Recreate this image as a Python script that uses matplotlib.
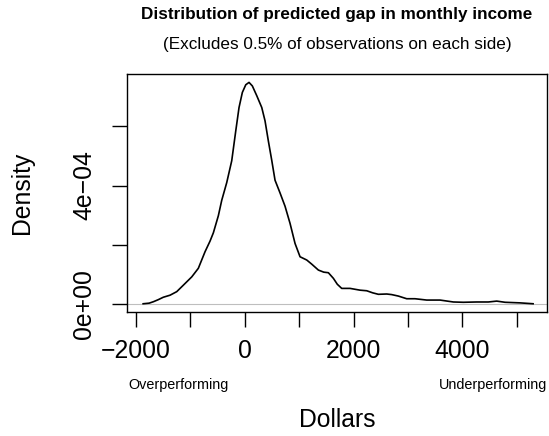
import matplotlib.pyplot as plt
from matplotlib.ticker import FixedLocator, FixedFormatter

plt.rcParams['font.family'] = ['Liberation Sans', 'DejaVu Sans']

# density curve (dollars, density in 1e-4)
gap = [-1870, -1760, -1680, -1590, -1500, -1375, -1252, -1130, -976, -855,
       -732, -640, -579, -487, -425, -333, -241, -167, -107, -46, 17, 77,
       138, 219, 311, 371, 432, 494, 555, 647, 739, 831, 923, 1015, 1138,
       1230, 1352, 1450, 1536, 1628, 1700, 1781, 1934, 2118, 2241, 2350,
       2455, 2609, 2700, 2823, 2976, 3129, 3344, 3589, 3834, 4017, 4263,
       4477, 4631, 4784, 5060, 5300]
dens_e4 = [0, 0.02, 0.07, 0.14, 0.22, 0.29, 0.41, 0.63, 0.91, 1.2,
           1.76, 2.12, 2.4, 2.98, 3.5, 4.1, 4.84, 5.85, 6.64, 7.15, 7.41,
           7.49, 7.37, 7.04, 6.64, 6.19, 5.51, 4.86, 4.18, 3.75, 3.3, 2.72,
           2.04, 1.59, 1.48, 1.34, 1.14, 1.07, 1.05, 0.86, 0.66, 0.52, 0.52,
           0.46, 0.44, 0.37, 0.32, 0.33, 0.31, 0.26, 0.17, 0.17, 0.125,
           0.125, 0.06, 0.05, 0.06, 0.06, 0.09, 0.05, 0.03, 0]
density = [d * 1e-4 for d in dens_e4]

x_ticks = [-2000, -1000, 0, 1000, 2000, 3000, 4000, 5000]
x_labels = ['\u22122000', '', '0', '', '2000', '', '4000', '']
y_ticks = [0, 2e-4, 4e-4, 6e-4]
y_labels = ['0e+00', '', '4e\u221204', '']

fig = plt.figure(figsize=(5.49, 4.36), dpi=100)
ax = fig.add_axes([0.232, 0.285, 0.7644, 0.545])

ax.axhline(0, color='#bebebe', lw=0.8, zorder=1)
ax.plot(gap, density, color='black', lw=1.2, zorder=2)

ax.set_xlim(-2160, 5556)
ax.set_ylim(-2.7e-5, 7.77e-4)

ax.xaxis.set_major_locator(FixedLocator(x_ticks))
ax.xaxis.set_major_formatter(FixedFormatter(x_labels))
ax.yaxis.set_major_locator(FixedLocator(y_ticks))
ax.yaxis.set_major_formatter(FixedFormatter(y_labels))
ax.tick_params(axis='both', direction='out', length=10.5, width=1.0,
               labelsize=17.8, color='black')
ax.tick_params(axis='x', pad=9)
ax.tick_params(axis='y', pad=12)
for lab in ax.get_yticklabels():
    lab.set_rotation(90)
    lab.set_va('center')
for s in ax.spines.values():
    s.set_linewidth(1.0)

fig.text(0.614, 0.9656, 'Distribution of predicted gap in monthly income',
         ha='center', va='center', fontsize=12.3, fontweight='bold')
fig.text(0.614, 0.899, '(Excludes 0.5% of observations on each side)',
         ha='center', va='center', fontsize=12.3)
fig.text(0.233, 0.117, 'Overperforming', ha='left', va='center', fontsize=10.4)
fig.text(0.996, 0.117, 'Underperforming', ha='right', va='center', fontsize=10.4)
fig.text(0.614, 0.0367, 'Dollars', ha='center', va='center', fontsize=17.8)
fig.text(0.040, 0.557, 'Density', ha='center', va='center', fontsize=17.8,
         rotation=90)

fig.savefig('out.png', dpi=100)
